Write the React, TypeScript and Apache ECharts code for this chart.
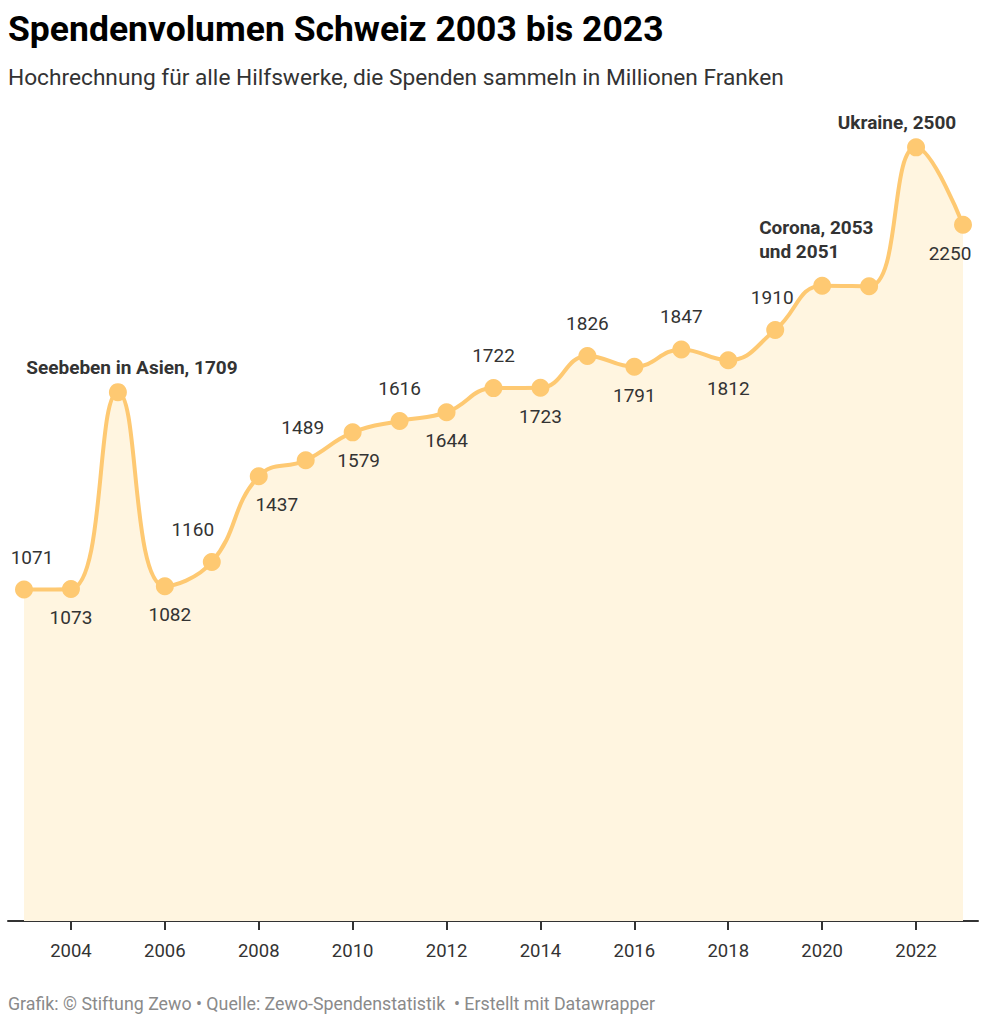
import React, { useEffect, useRef } from "react";
import * as echarts from "echarts";

const years = [2003, 2004, 2005, 2006, 2007, 2008, 2009, 2010, 2011, 2012, 2013, 2014, 2015, 2016, 2017, 2018, 2019, 2020, 2021, 2022, 2023];
const values = [1071, 1073, 1709, 1082, 1160, 1437, 1489, 1579, 1616, 1644, 1722, 1723, 1826, 1791, 1847, 1812, 1910, 2053, 2051, 2500, 2250];
const tickYears = [2004, 2006, 2008, 2010, 2012, 2014, 2016, 2018, 2020, 2022];
const annotations: Record<number, string> = {
  2005: "Seebeben in Asien, 1709",
  2020: "Corona, 2053\nund 2051",
  2022: "Ukraine, 2500",
};
const hiddenLabels = [2021];
const belowOverride = [2023];

const TITLE = "Spendenvolumen Schweiz 2003 bis 2023";
const SUBTITLE = "Hochrechnung für alle Hilfswerke, die Spenden sammeln in Millionen Franken";
const FOOTER = "Grafik: © Stiftung Zewo • Quelle: Zewo-Spendenstatistik  • Erstellt mit Datawrapper";

const FONT = "Roboto, 'Noto Sans', sans-serif";
const ORANGE = "#fec972";

// horizontal nudges of value labels (label collision avoidance as in the original)
const labelNudge: Record<number, number> = { 2003: 8, 2006: 5, 2007: -19, 2008: 18, 2009: -3, 2010: 6, 2019: -3, 2023: -13 };

export default function App() {
  const ref = useRef<HTMLDivElement>(null);
  useEffect(() => {
    if (!ref.current) return;
    const chart = echarts.init(ref.current, null, { renderer: "svg" });

    const data = years.map((y, i) => {
      const v = values[i];
      const item: any = { value: [y, v] };
      if (hiddenLabels.includes(y)) {
        item.label = { show: false };
      } else if (annotations[y]) {
        const base: any = {
          show: true,
          formatter: annotations[y],
          fontWeight: "bold",
          fontSize: 19,
          color: "#333",
          fontFamily: FONT,
          position: "top",
        };
        if (y === 2005) {
          base.offset = [14, 4];
          base.distance = 10;
        } else if (y === 2020) {
          base.align = "left";
          base.offset = [-63, -5];
          base.lineHeight = 24;
          base.distance = 8;
        } else if (y === 2022) {
          base.offset = [-19, 0];
          base.distance = 6;
        }
        item.label = base;
      } else {
        const below = belowOverride.includes(y) || i % 2 === 1;
        item.label = {
          show: true,
          position: below ? "bottom" : "top",
          distance: below ? 10 : 14,
          offset: [labelNudge[y] || 0, 0],
        };
      }
      return item;
    });

    const firstYear = years[0];
    const lastYear = years[years.length - 1];
    const pxPerYear = (987 - 48) / (lastYear - firstYear);

    chart.setOption({
      animation: false,
      textStyle: { fontFamily: FONT },
      title: [
        {
          text: TITLE,
          left: 8,
          top: 11,
          padding: 0,
          textStyle: { fontSize: 35.5, fontWeight: "bold", color: "#000", fontFamily: FONT },
        },
        {
          text: SUBTITLE,
          left: 8,
          top: 66,
          padding: 0,
          textStyle: { fontSize: 22.7, fontWeight: "normal", color: "#333", fontFamily: FONT },
        },
        {
          text: FOOTER,
          left: 8,
          top: 994,
          padding: 0,
          textStyle: { fontSize: 17.8, fontWeight: "normal", color: "#8a8a8a", fontFamily: FONT },
        },
      ],
      grid: { left: 8, right: 9, top: 70, bottom: 103 },
      xAxis: {
        type: "value",
        min: firstYear - 16 / pxPerYear,
        max: lastYear + 15 / pxPerYear,
        splitLine: { show: false },
        axisLine: { show: true, lineStyle: { color: "#333", width: 2 } },
        axisTick: { show: true, customValues: tickYears, length: 9, lineStyle: { color: "#333", width: 2 } },
        axisLabel: {
          customValues: tickYears,
          formatter: (v: number) => String(v),
          color: "#333",
          fontSize: 18.5,
          margin: 20,
          fontFamily: FONT,
        },
      },
      yAxis: { type: "value", min: 0, max: 2750, show: false, splitLine: { show: false } },
      series: [
        {
          type: "line",
          data,
          smooth: 0.45,
          symbol: "circle",
          symbolSize: 18,
          lineStyle: { color: ORANGE, width: 4 },
          itemStyle: { color: ORANGE },
          areaStyle: { color: "#fff5e0", opacity: 1 },
          label: {
            show: true,
            formatter: (p: any) => String(p.value[1]),
            color: "#333",
            fontSize: 19,
            fontFamily: FONT,
          },
          emphasis: { disabled: true },
        },
      ],
    });
    return () => chart.dispose();
  }, []);
  return <div ref={ref} style={{ position: "fixed", left: 0, top: 0, width: 987, height: 1024, background: "#fff" }} />;
}
